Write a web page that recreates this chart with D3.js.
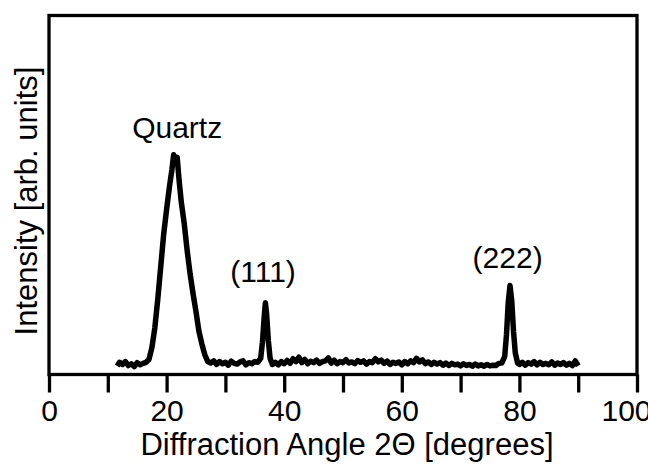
<!DOCTYPE html>
<html>
<head>
<meta charset="utf-8">
<script src="https://cdn.jsdelivr.net/npm/d3@7"></script>
<style>
  body { margin: 0; background: #fff; }
  svg { display: block; }
  text { font-family: "Liberation Sans", Arial, sans-serif; fill: #000; }
</style>
</head>
<body>
<svg></svg>
<script>
'use strict';

// 2-theta positions (degrees)
var angles = [
  11.6, 12.0, 12.5, 13.0, 13.5, 14.0, 14.5, 15.0, 15.5, 16.0, 16.5,
  17.0, 17.5, 18.0, 18.5, 19.0, 19.5, 20.0, 20.5, 20.9, 21.2, 21.5, 21.8,
  22.1, 22.5, 23.0, 23.5, 24.0, 24.5, 25.0, 25.5, 26.0, 26.5, 27.0, 27.5,
  28.0, 28.5, 29.0, 29.5, 30.0, 30.5, 31.0, 31.5, 32.0, 32.5, 33.0, 33.5,
  34.0, 34.5, 35.0, 35.5, 36.0, 36.3, 36.6, 36.8, 37.0, 37.3, 37.6,
  38.0, 38.5, 39.0, 39.5, 40.0, 40.5, 41.0, 41.5, 42.0, 42.5, 43.0, 43.5,
  44.0, 44.5, 45.0, 45.5, 46.0, 46.5, 47.0, 47.5, 48.0, 48.5, 49.0, 49.5,
  50.0, 50.5, 51.0, 51.5, 52.0, 52.5, 53.0, 53.5, 54.0, 54.5, 55.0, 55.5,
  56.0, 56.5, 57.0, 57.5, 58.0, 58.5, 59.0, 59.5, 60.0, 60.5, 61.0, 61.5,
  62.0, 62.5, 63.0, 63.5, 64.0, 64.5, 65.0, 65.5, 66.0, 66.5, 67.0, 67.5,
  68.0, 68.5, 69.0, 69.5, 70.0, 70.5, 71.0, 71.5, 72.0, 72.5, 73.0, 73.5,
  74.0, 74.5, 75.0, 75.5, 76.0, 76.5, 77.0, 77.5, 77.8, 78.1, 78.4, 78.7,
  79.0, 79.3, 79.7, 80.0, 80.5, 81.0, 81.5, 82.0, 82.5, 83.0, 83.5,
  84.0, 84.5, 85.0, 85.5, 86.0, 86.5, 87.0, 87.5, 88.0, 88.5, 89.0, 89.5, 90.0
];

// intensity, arbitrary units (axis top = 1)
var intensity = [
  0.024, 0.034, 0.028, 0.036, 0.025, 0.030, 0.022, 0.033, 0.027, 0.031, 0.034,
  0.042, 0.075, 0.130, 0.210, 0.300, 0.390, 0.460, 0.525, 0.570, 0.612, 0.598, 0.605,
  0.545, 0.480, 0.420, 0.345, 0.280, 0.225, 0.175, 0.120, 0.085, 0.055, 0.036, 0.032,
  0.038, 0.028, 0.036, 0.030, 0.034, 0.026, 0.037, 0.031, 0.029, 0.035, 0.038, 0.027,
  0.033, 0.030, 0.036, 0.034, 0.045, 0.090, 0.160, 0.200, 0.170, 0.095, 0.045,
  0.028, 0.034, 0.027, 0.036, 0.030, 0.039, 0.031, 0.044, 0.036, 0.048, 0.033, 0.042,
  0.030, 0.037, 0.033, 0.040, 0.031, 0.036, 0.038, 0.046, 0.032, 0.040, 0.030, 0.036,
  0.033, 0.041, 0.032, 0.035, 0.030, 0.039, 0.034, 0.038, 0.029, 0.036, 0.033, 0.044,
  0.035, 0.040, 0.031, 0.037, 0.028, 0.034, 0.031, 0.035, 0.027, 0.036, 0.030, 0.038,
  0.033, 0.045, 0.035, 0.041, 0.030, 0.035, 0.028, 0.034, 0.029, 0.033, 0.026, 0.032,
  0.025, 0.031, 0.027, 0.029, 0.024, 0.030, 0.025, 0.028, 0.023, 0.029, 0.024, 0.027,
  0.023, 0.028, 0.024, 0.026, 0.025, 0.031, 0.032, 0.050, 0.110, 0.200, 0.248, 0.205,
  0.120, 0.060, 0.032, 0.028, 0.034, 0.026, 0.033, 0.029, 0.036, 0.027, 0.034,
  0.028, 0.031, 0.027, 0.035, 0.026, 0.032, 0.028, 0.033, 0.026, 0.031, 0.025, 0.038, 0.024
];

var xTicks = [0, 10, 20, 30, 40, 50, 60, 70, 80, 90, 100];

// peak annotations: text, angle of label centre, level of label baseline
var peakNames = ['Quartz', '(111)', '(222)'];
var peakLabelAngles = [21.8, 36.4, 78.0];
var peakLabelLevels = [0.66, 0.258, 0.297];

var canvasWidth = 648;
var canvasHeight = 466;
var margin = {top: 15.5, right: 11, bottom: 91.5, left: 49};
var width = canvasWidth - margin.left - margin.right;
var height = canvasHeight - margin.top - margin.bottom;

var svg = d3.select('svg')
  .attr('width', canvasWidth)
  .attr('height', canvasHeight);

var graphArea = svg.append('g')
  .attr('transform', 'translate(' + margin.left + ',' + margin.top + ')');

var xScale = d3.scaleLinear().domain([0, 100]).range([0, width]);
var yScale = d3.scaleLinear().domain([0, 1]).range([height, 0]);

var points = angles.map(function(a, i) { return [a, intensity[i]]; });

var line = d3.line()
  .x(function(d) { return xScale(d[0]); })
  .y(function(d) { return yScale(d[1]); });

// thick trace, the raw scan is dense and noisy
graphArea.append('path')
  .datum(points)
  .attr('d', line)
  .attr('fill', 'none')
  .attr('stroke', '#000')
  .attr('stroke-width', 5.5)
  .attr('stroke-linejoin', 'round')
  .attr('stroke-linecap', 'butt');

// x axis, ticks outside
var xAxis = graphArea.append('g')
  .attr('class', 'x axis')
  .attr('transform', 'translate(0,' + height + ')')
  .call(d3.axisBottom(xScale)
    .tickValues(xTicks)
    .tickSize(18)
    .tickSizeOuter(0)
    .tickPadding(7)
    .tickFormat(function(d) { return d % 20 === 0 ? d : ''; }));

xAxis.select('.domain').remove();
xAxis.selectAll('line')
  .attr('stroke', '#000')
  .attr('stroke-width', 3.3);
xAxis.selectAll('text')
  .style('font-size', '30px')
  .style('font-family', '"Liberation Sans", Arial, sans-serif')
  .attr('fill', '#000');
// last label sits against the page edge, as in the original
xAxis.selectAll('.tick')
  .filter(function(d) { return d === 100; })
  .select('text')
  .attr('dx', -11);

// frame
graphArea.append('rect')
  .attr('x', 0)
  .attr('y', 0)
  .attr('width', width)
  .attr('height', height)
  .attr('fill', 'none')
  .attr('stroke', '#000')
  .attr('stroke-width', 3.3);

// axis titles
svg.append('text')
  .attr('x', margin.left + width / 2 + 4)
  .attr('y', 455)
  .attr('text-anchor', 'middle')
  .style('font-size', '31px')
  .text('Diffraction Angle 2\u0398 [degrees]');

svg.append('text')
  .attr('transform', 'translate(37,' + (margin.top + height / 2 + 6) + ') rotate(-90)')
  .attr('text-anchor', 'middle')
  .style('font-size', '31px')
  .text('Intensity [arb. units]');

// peak labels
graphArea.selectAll('.peak-label')
  .data(peakNames)
  .enter()
  .append('text')
  .attr('class', 'peak-label')
  .attr('x', function(d, i) { return xScale(peakLabelAngles[i]); })
  .attr('y', function(d, i) { return yScale(peakLabelLevels[i]); })
  .attr('text-anchor', 'middle')
  .style('font-size', '30px')
  .text(function(d) { return d; });
</script>
</body>
</html>
